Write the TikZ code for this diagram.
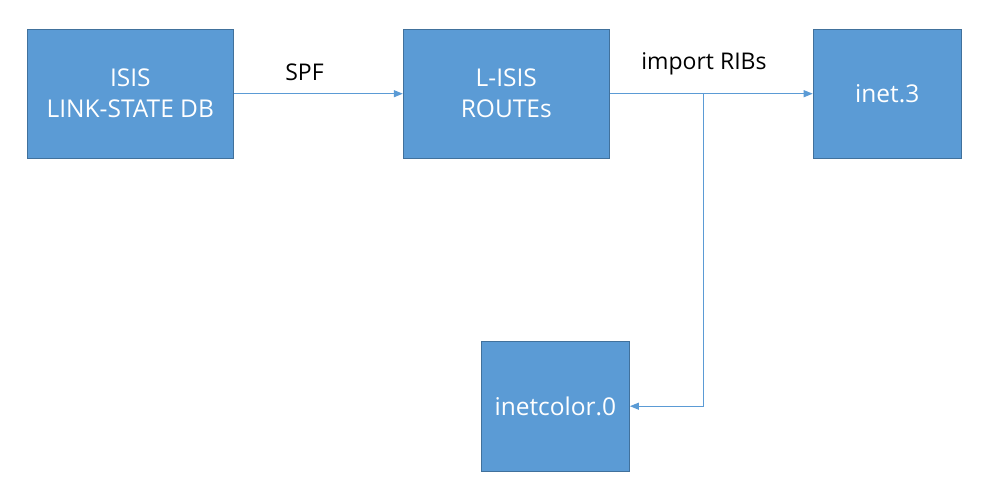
\documentclass[tikz,border=0pt]{standalone}
\usepackage{fontspec}
\setmainfont{Open Sans}
\usetikzlibrary{arrows.meta}
\definecolor{boxfill}{HTML}{5B9BD5}
\definecolor{boxedge}{HTML}{41719C}
\definecolor{linkc}{HTML}{5B9BD5}
\tikzset{
  blockbox/.style={draw=boxedge, fill=boxfill, line width=1pt, text=white,
    align=center, inner sep=0pt, font=\fontsize{24.5}{31}\selectfont},
  link/.style={draw=linkc, line width=1.1pt, -{Triangle[length=9pt,width=7pt]}},
  lbl/.style={anchor=base, font=\fontsize{23}{28}\selectfont, text=black}
}
\begin{document}
\begin{tikzpicture}[x=1pt,y=-1pt]
\useasboundingbox (0,0) rectangle (983,492);
\fill[white] (0,0) rectangle (983,492);
\node[blockbox, minimum width=206pt, minimum height=129pt] (b1) at (130.3,93.7) {ISIS\\LINK-STATE DB};
\node[blockbox, minimum width=206pt, minimum height=129pt] (b2) at (506.3,93.7) {L-ISIS\\ROUTEs};
\node[blockbox, minimum width=148pt, minimum height=129pt] (b3) at (887.2,93.7) {inet.3};
\node[blockbox, minimum width=148pt, minimum height=130pt] (b4) at (555.4,406.2) {inetcolor.0};
\coordinate (br) at (703.3,93.7);
\draw[link] (b1.east) -- (b2.west);
\draw[link] (b2.east) -- (b3.west);
\draw[link] (br) |- (b4.east);
\node[lbl] (spf) at (304.5,81) {SPF};
\node[lbl] (imp) at (704,70) {import RIBs};
\end{tikzpicture}
\end{document}
